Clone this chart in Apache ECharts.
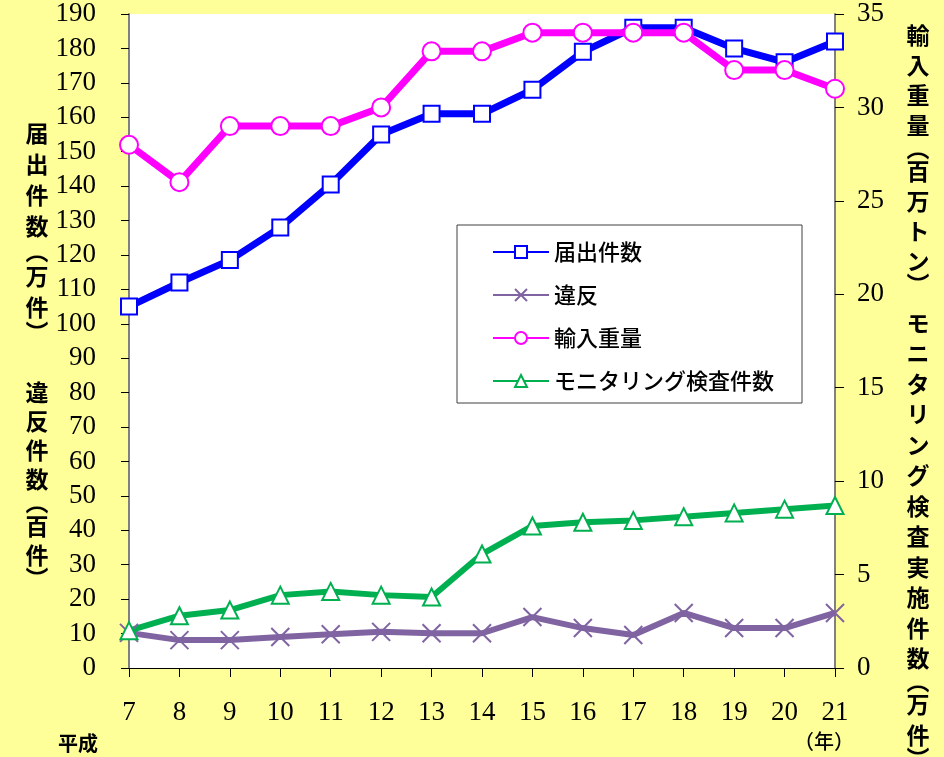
<!DOCTYPE html>
<html>
<head>
<meta charset="utf-8">
<script src="https://cdn.jsdelivr.net/npm/echarts@6/dist/echarts.min.js"></script>
<style>
    html, body { margin: 0; padding: 0; background: #FFFF99; }
    #main { width: 944px; height: 757px; }
</style>
</head>
<body>
<div id="main"></div>
<script>
// 平成7年～21年
var years = ['7', '8', '9', '10', '11', '12', '13', '14', '15', '16', '17', '18', '19', '20', '21'];

// 届出件数（万件）左軸
var todokede = [105, 112, 118.5, 128, 140.5, 155, 161, 161, 168, 179, 186, 186, 180, 176, 182];
// 違反件数（百件）左軸
var ihan = [10.2, 8.1, 8.1, 9.0, 9.8, 10.5, 10.1, 10.1, 14.8, 11.6, 9.6, 16.0, 11.6, 11.6, 16.0];
// 輸入重量（百万トン）右軸
var yunyu = [28, 26, 29, 29, 29, 30, 33, 33, 34, 34, 34, 34, 32, 32, 31];
// モニタリング検査実施件数（万件）右軸
var monitoring = [2.0, 2.8, 3.1, 3.9, 4.1, 3.9, 3.8, 6.1, 7.6, 7.8, 7.9, 8.1, 8.3, 8.5, 8.7];

var seriesNames = ['届出件数', '違反', '輸入重量', 'モニタリング検査件数'];

var numFont = '"Liberation Serif", "DejaVu Serif", serif';
var jpFont = '"Noto Sans CJK JP", sans-serif';

// 縦書きの軸名（括弧は詰める）
function vtext(x, y, str, lh, br) {
    var children = [];
    var cur = 0;
    for (var i = 0; i < str.length; i++) {
        var ch = str[i];
        var h = (ch === '︵' || ch === '︶') ? lh * br : lh;
        children.push({
            type: 'text',
            x: 0,
            y: cur + h / 2,
            style: {
                text: ch,
                fontFamily: jpFont,
                fontSize: 23,
                fontWeight: 'bold',
                fill: '#000',
                align: 'center',
                verticalAlign: 'middle'
            }
        });
        cur += h;
    }
    return { type: 'group', x: x, y: y, children: children };
}

var chart = echarts.init(document.getElementById('main'));

var option = {
    backgroundColor: '#FFFF99',
    animation: false,
    grid: {
        left: 129,
        right: 109,
        top: 14,
        bottom: 89,
        show: true,
        backgroundColor: '#ffffff',
        borderWidth: 0
    },
    legend: {
        orient: 'vertical',
        left: 487,
        top: 236,
        itemWidth: 56,
        itemHeight: 15,
        itemGap: 21,
        data: seriesNames,
        textStyle: {
            fontFamily: jpFont,
            fontSize: 22,
            fontWeight: 500,
            color: '#000'
        }
    },
    xAxis: {
        type: 'category',
        data: years,
        boundaryGap: false,
        axisLine: { lineStyle: { color: '#000', width: 1 } },
        axisTick: { alignWithLabel: true, length: 9, lineStyle: { color: '#000' } },
        axisLabel: {
            margin: 31,
            fontFamily: numFont,
            fontSize: 27,
            color: '#000'
        }
    },
    yAxis: [{
        type: 'value',
        min: 0,
        max: 190,
        interval: 10,
        splitLine: { show: false },
        axisLine: { show: true, lineStyle: { color: '#808080', width: 2 } },
        axisTick: { show: true, length: 8, lineStyle: { color: '#000' } },
        axisLabel: {
            margin: 33,
            fontFamily: numFont,
            fontSize: 27,
            color: '#000'
        }
    }, {
        type: 'value',
        min: 0,
        max: 35,
        interval: 5,
        position: 'right',
        splitLine: { show: false },
        axisLine: { show: true, lineStyle: { color: '#808080', width: 2 } },
        axisTick: { show: true, length: 9, lineStyle: { color: '#000' } },
        axisLabel: {
            margin: 22,
            fontFamily: numFont,
            fontSize: 27,
            color: '#000'
        }
    }],
    graphic: [
        {
            type: 'rect',
            shape: { x: 457, y: 225, width: 345, height: 178 },
            style: { fill: '#ffffff', stroke: '#404040', lineWidth: 1 },
            z: 0
        },
        vtext(37, 118, '届出件数︵万件︶', 31, 0.6),
        vtext(37, 378, '違反件数︵百件︶', 29, 0.6),
        vtext(918, 20, '輸入重量︵百万トン︶', 30, 0.55),
        vtext(918, 308, 'モニタリング検査実施件数︵万件︶', 30.5, 0.5),
        {
            type: 'text',
            left: 58,
            top: 733,
            style: { text: '平成', fontFamily: jpFont, fontSize: 20, fontWeight: 'bold', fill: '#000' }
        },
        {
            type: 'text',
            left: 794,
            top: 731,
            style: { text: '（年）', fontFamily: jpFont, fontSize: 20, fontWeight: 500, fill: '#000' }
        }
    ],
    series: [{
        name: seriesNames[0],
        type: 'line',
        yAxisIndex: 0,
        data: todokede,
        symbol: 'rect',
        symbolSize: 16,
        showAllSymbol: true,
        lineStyle: { color: '#0000FF', width: 7 },
        itemStyle: { color: '#ffffff', borderColor: '#0000FF', borderWidth: 2 }
    }, {
        name: seriesNames[1],
        type: 'line',
        yAxisIndex: 0,
        data: ihan,
        symbol: 'path://M0 0L10 10M10 0L0 10',
        symbolSize: 18,
        showAllSymbol: true,
        lineStyle: { color: '#8064A2', width: 6 },
        itemStyle: { color: '#8064A2', borderColor: '#8064A2', borderWidth: 2 }
    }, {
        name: seriesNames[2],
        type: 'line',
        yAxisIndex: 1,
        data: yunyu,
        symbol: 'circle',
        symbolSize: 18,
        showAllSymbol: true,
        lineStyle: { color: '#FF00FF', width: 7 },
        itemStyle: { color: '#ffffff', borderColor: '#FF00FF', borderWidth: 2 }
    }, {
        name: seriesNames[3],
        type: 'line',
        yAxisIndex: 1,
        data: monitoring,
        symbol: 'triangle',
        symbolSize: 17,
        showAllSymbol: true,
        lineStyle: { color: '#00B050', width: 6 },
        itemStyle: { color: '#ffffff', borderColor: '#00B050', borderWidth: 2 }
    }]
};

chart.setOption(option);
</script>
</body>
</html>
